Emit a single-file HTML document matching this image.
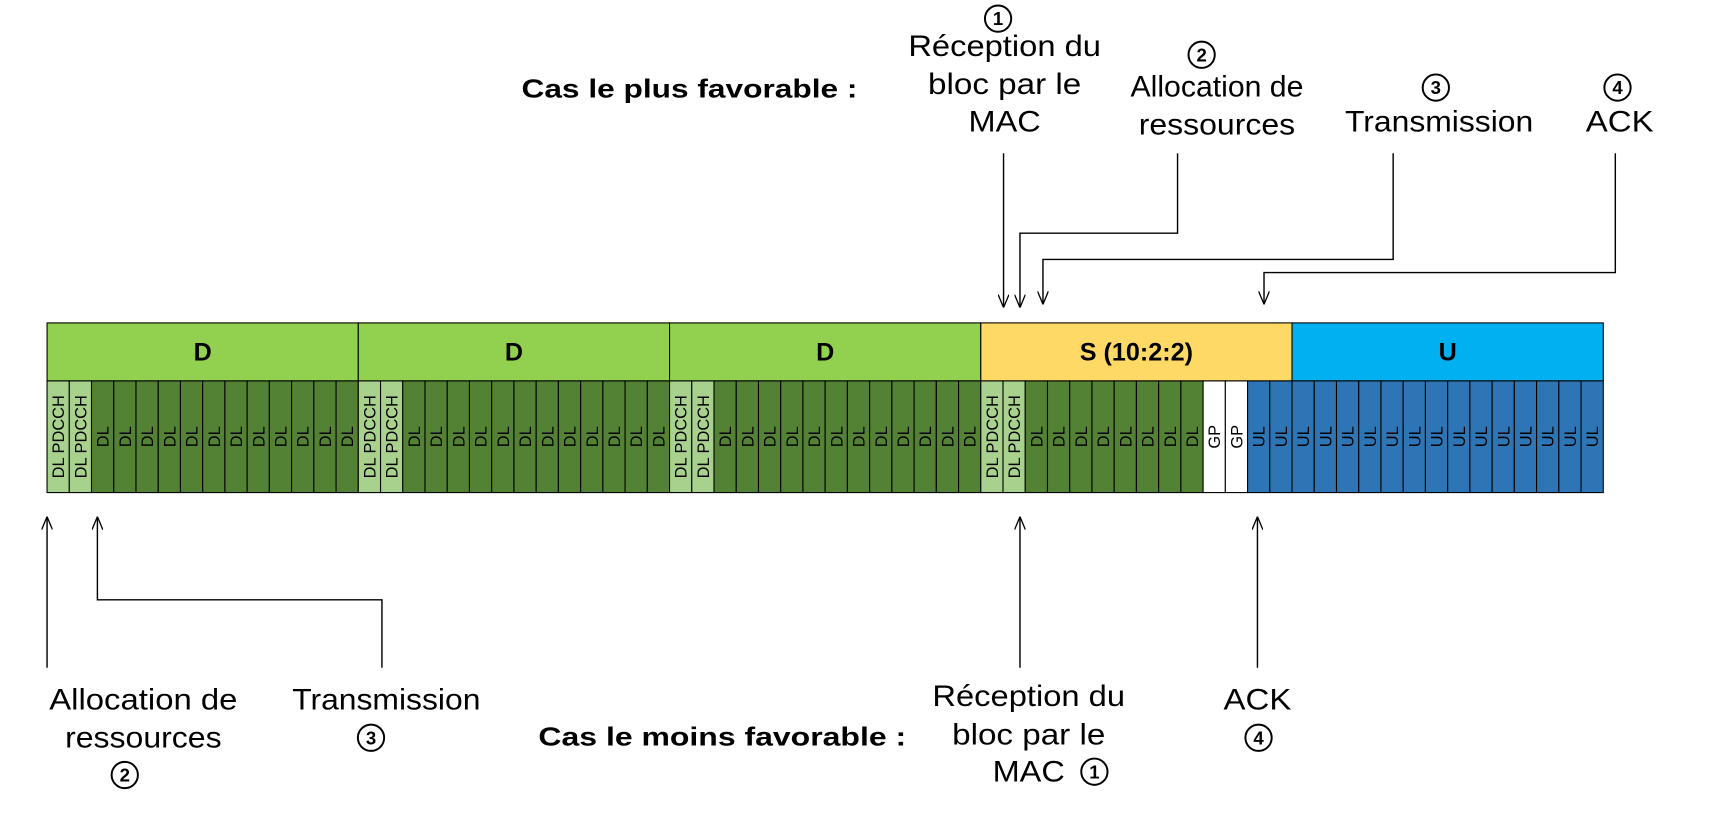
<!DOCTYPE html>
<html><head><meta charset="utf-8"><style>
html,body{margin:0;padding:0;background:#fff;}
svg{display:block;}
text{font-family:"Liberation Sans Narrow","Liberation Sans",sans-serif;}
.b{font-family:"Liberation Sans",sans-serif;font-weight:bold;}
</style></head><body>
<svg id="chart" width="1716" height="833" viewBox="0 0 1568 761" preserveAspectRatio="none" xmlns="http://www.w3.org/2000/svg">
<defs><marker id="ah" viewBox="0 0 12 10" refX="12" refY="5" markerWidth="12" markerHeight="10" orient="auto" markerUnits="userSpaceOnUse"><path d="M0,0 L12,5 L0,10" fill="none" stroke="#000" stroke-width="1.2"/></marker></defs>
<g id="frame"></g>
<g id="ann"></g>
</svg>
<script>
const subframes = ["D","D","D","S (10:2:2)","U"];
const sfColors = ["#92D050","#92D050","#92D050","#FFD966","#00B0F0"];
const symD = ["DL PDCCH","DL PDCCH","DL","DL","DL","DL","DL","DL","DL","DL","DL","DL","DL","DL"];
const symS = ["DL PDCCH","DL PDCCH","DL","DL","DL","DL","DL","DL","DL","DL","GP","GP","UL","UL"];
const symU = ["UL","UL","UL","UL","UL","UL","UL","UL","UL","UL","UL","UL","UL","UL"];
const symbols = [symD,symD,symD,symS,symU];
const NS="http://www.w3.org/2000/svg";
const X0=43,X1=1465,HT=295,HB=348,CB=450;
const sfW=(X1-X0)/subframes.length, cW=sfW/14;
const sx=i=>X0+i*sfW;
function el(t,a,p){const e=document.createElementNS(NS,t);for(const k in a)e.setAttribute(k,a[k]);p.appendChild(e);return e;}
const fr=document.getElementById('frame');
const cellColor={"DL PDCCH":"#A9D18E","DL":"#548235","GP":"#FFFFFF","UL":"#2E75B6"};
subframes.forEach((s,i)=>{
  const r=el('rect',{x:sx(i),y:HT,width:sfW,height:HB-HT,fill:sfColors[i],stroke:"#000","stroke-width":1},fr);
  
  
  const t=el('text',{x:sx(i)+sfW/2,y:(HT+HB)/2+8,"text-anchor":"middle","font-size":23,class:"b"},fr);
  
  
  t.textContent=s;
  symbols[i].forEach((sym,j)=>{
    const x=sx(i)+j*cW;
    const c=el('rect',{x:x,y:HB,width:cW,height:CB-HB,fill:cellColor[sym],stroke:"#000","stroke-width":1},fr);
    
    
    const cx=x+cW/2+5.5,cy=(HB+CB)/2;
    const tt=el('text',{x:cx,y:cy,"text-anchor":"middle","font-size":15,transform:`rotate(-90 ${cx} ${cy})`,style:'font-family:"Liberation Sans",sans-serif'},fr);
    
    
    tt.textContent=sym;
  });
});
const an=document.getElementById('ann');
function path(pts){const p=el('polyline',{points:pts.map(q=>q.join(',')).join(' '),fill:"none",stroke:"#000","stroke-width":1.3,"marker-end":"url(#ah)"},an);
  
  }
function txt(x,y,s,sz,cls,w){const t=el('text',{x:x,y:y,"text-anchor":"middle","font-size":sz},an);if(cls)t.setAttribute('class',cls);if(w){t.setAttribute('textLength',w);t.setAttribute('lengthAdjust','spacingAndGlyphs');}
  
  
  t.textContent=s;}
function circ(x,y,n){const c=el('circle',{cx:x,cy:y,r:12,fill:"none",stroke:"#000","stroke-width":1.8},an);
  
  
  const t=el('text',{x:x,y:y+6,"text-anchor":"middle","font-size":17,class:"b"},an);
  
  
  t.textContent=n;}
// top
txt(630,89,"Cas le plus favorable :",24,"b",307);
circ(912,17,"1");txt(918,51,"Réception du",27,"",176);txt(918,86,"bloc par le",27,"",140);txt(918,120,"MAC",27,"",66);
circ(1098,50,"2");txt(1112,88,"Allocation de",27,"",158);txt(1112,123,"ressources",27,"",143);
circ(1312,80,"3");txt(1315,120,"Transmission",27,"",172);
circ(1478,80,"4");txt(1480,120,"ACK",27,"",62);
path([[917,140],[917,281]]);
path([[1076,140],[1076,213],[932,213],[932,281]]);
path([[1273,140],[1273,237],[953,237],[953,278]]);
path([[1476,140],[1476,249],[1155,249],[1155,278]]);
// bottom
path([[43,610],[43,472]]);
path([[349,610],[349,548],[89,548],[89,472]]);
path([[932,610],[932,472]]);
path([[1149,610],[1149,472]]);
txt(131,648,"Allocation de",27,"",172);txt(131,683,"ressources",27,"",143);circ(114,708,"2");
txt(353,648,"Transmission",27,"",172);circ(339,674,"3");
txt(660,681,"Cas le moins favorable :",24,"b",336);
txt(940,645,"Réception du",27,"",176);txt(940,680,"bloc par le",27,"",140);txt(940,714,"MAC",27,"",66);circ(1000,705,"1");
txt(1149,648,"ACK",27,"",62);circ(1150,674,"4");
</script>
</body></html>
